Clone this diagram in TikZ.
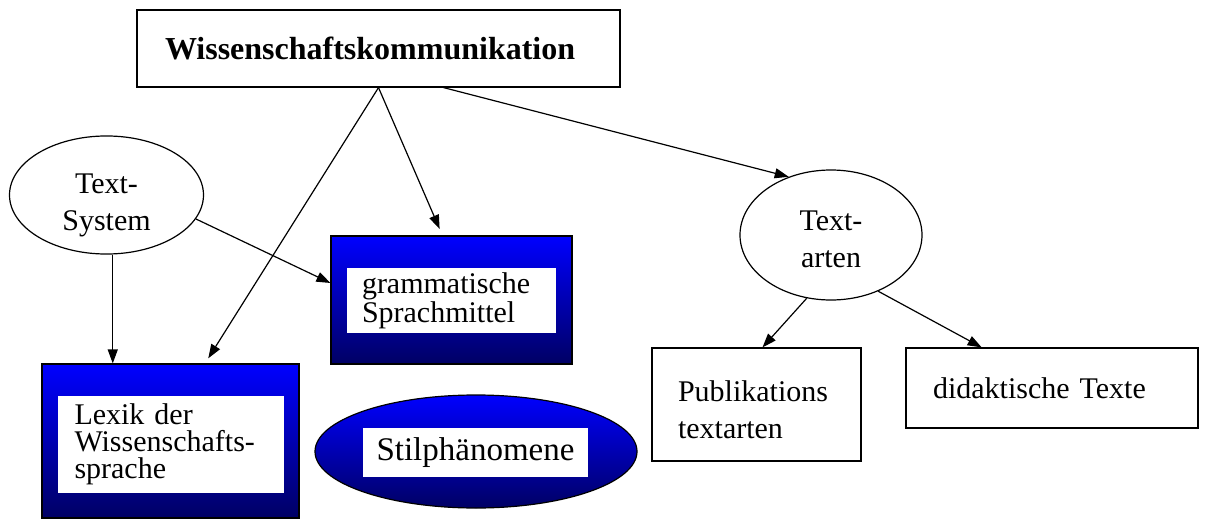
\documentclass[tikz,border=0pt]{standalone}
\usepackage{fontspec}
\setmainfont{Liberation Serif}
\usetikzlibrary{shapes.geometric, arrows.meta}
\definecolor{bright}{RGB}{0, 0, 255}
\definecolor{deep}{RGB}{0, 0, 100}

\begin{document}
\begin{tikzpicture}[
   x=0.5pt, y=-0.5pt,
   plainbox/.style={rectangle, draw=black, line width=0.6pt, inner ysep=0,
                    font=\fontsize{15}{18.5}\selectfont},
   plainell/.style={ellipse, draw=black, line width=0.6pt, inner sep=0,
                    align=center, font=\fontsize{15}{18.5}\selectfont},
   bluebox/.style={rectangle, draw=black, line width=0.6pt, top color=bright,
                   middle color=bright!85!deep, bottom color=deep},
   blueell/.style={ellipse, draw=black, line width=0.6pt, top color=bright,
                   middle color=bright!85!deep, bottom color=deep},
   whitelabel/.style={rectangle, fill=white, inner ysep=0,
                      font=\fontsize{15}{13.5}\selectfont},
   link/.style={-{Triangle[length=7pt, width=5pt]}, line width=0.6pt}
  ]

  \useasboundingbox (0, 0) rectangle (1209, 519);

  % top
  \node (wk) at (378.5, 48.5) [plainbox, minimum height=38.5pt, text width=213.5pt,
        inner xsep=14pt, align=left, font=\fontsize{16}{19}\selectfont\bfseries]
        {Wissenschaftskommunikation};

  % left side
  \node (ts) at (106.5, 195) [plainell, minimum width=97pt, minimum height=57pt]
        {\rule{0pt}{20pt}Text-\\System};

  \node (gs) at (451.5, 300) [bluebox, minimum width=120.5pt, minimum height=64pt] {};
  \node (gst) at (451.5, 300.5) [whitelabel, minimum height=32.5pt, text width=89.5pt,
        inner xsep=7.5pt, align=left] {grammatische\\Sprachmittel};

  \node (lx) at (170.5, 441) [bluebox, minimum width=128.5pt, minimum height=77pt] {};
  \node (lxt) at (170.5, 444.5) [whitelabel, minimum height=48.5pt, text width=96pt,
        inner xsep=8.5pt, align=left] {Lexik der\\Wissenschafts-\\sprache};

  \node (st) at (476, 451.5) [blueell, minimum width=161pt, minimum height=56.5pt] {};
  \node (stt) at (475.5, 452.5) [whitelabel, minimum width=112.5pt, minimum height=24.5pt,
        inner xsep=0, font=\fontsize{16.5}{19}\selectfont] {Stilphänomene};

  % right side
  \node (ta) at (831, 235) [plainell, minimum width=91pt, minimum height=65pt]
        {\rule{0pt}{14.5pt}Text-\\arten};

  \node (pub) at (756.5, 404.5) [plainbox, minimum height=56.5pt, text width=78.5pt,
        inner xsep=13pt, align=left] {\rule{0pt}{15.5pt}Publikations\\textarten};
  \node (did) at (1052, 388) [plainbox, minimum height=40pt, text width=119pt,
        inner xsep=13.5pt, align=left] {didaktische Texte};

  \foreach \B/\E in {wk.-31/ta.126, ts.-15/gs.172, ta.-111/pub.84, ta.-50/did.150} {
    \draw[link] (\B) -- (\E);
  }
  \draw[link, shorten >=3pt] (wk.south) -- (lx.66);
  \draw[link, shorten >=3.5pt] (wk.south) -- (gs.98);
  \draw[link] (ts.-84) -- (ts.-84 |- lx.north);

\end{tikzpicture}
\end{document}
